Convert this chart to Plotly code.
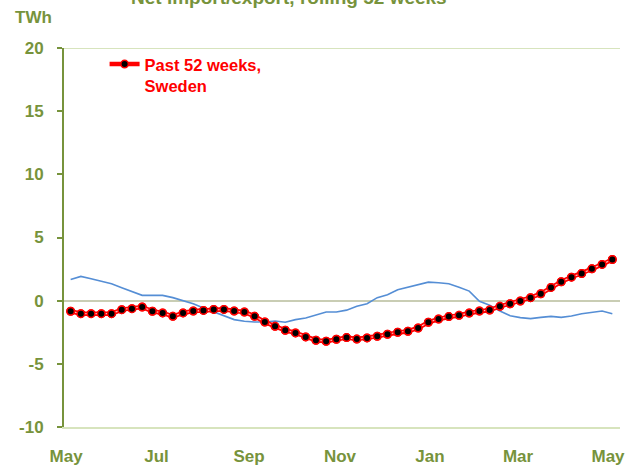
import plotly.graph_objects as go

# ---- data (TWh, rolling 52 weeks, weekly points May -> May) ----
weeks = list(range(54))
past_52_sweden = [-0.84, -1.03, -1.03, -1.03, -1.03, -0.71, -0.63, -0.50, -0.84, -0.97,
                  -1.24, -0.97, -0.82, -0.77, -0.69, -0.69, -0.82, -0.90, -1.24, -1.69,
                  -2.03, -2.34, -2.55, -2.87, -3.13, -3.21, -3.05, -2.92, -3.04, -2.95,
                  -2.82, -2.66, -2.50, -2.42, -2.16, -1.71, -1.45, -1.26, -1.16, -0.98,
                  -0.82, -0.74, -0.45, -0.24, -0.03, 0.24, 0.55, 1.05, 1.50, 1.86,
                  2.15, 2.52, 2.87, 3.26]
previous_year = [1.68, 1.92, 1.74, 1.55, 1.34, 1.03, 0.73, 0.42, 0.42, 0.42,
                 0.24, -0.03, -0.24, -0.58, -0.90, -1.21, -1.50, -1.63, -1.69, -1.69,
                 -1.61, -1.71, -1.50, -1.37, -1.16, -0.90, -0.90, -0.75, -0.45, -0.24,
                 0.24, 0.47, 0.87, 1.07, 1.26, 1.47, 1.42, 1.34, 1.07, 0.76,
                 -0.05, -0.37, -0.82, -1.19, -1.34, -1.42, -1.32, -1.24, -1.32, -1.21,
                 -1.03, -0.92, -0.82, -1.03]
month_labels = ["May", "Jul", "Sep", "Nov", "Jan", "Mar", "May"]
month_weeks = [-0.44, 8.40, 17.45, 26.35, 35.16, 43.77, 52.58]
y_ticks = [20, 15, 10, 5, 0, -5, -10]

OLIVE = "#77933C"
LIGHT = "#D7E4BD"
FONT = "Liberation Sans, Arial, sans-serif"

fig = go.Figure()
fig.add_trace(go.Scatter(x=weeks, y=previous_year, mode="lines",
                         line=dict(color="#558ED5", width=1.6), showlegend=False,
                         hoverinfo="skip"))
fig.add_trace(go.Scatter(x=weeks, y=past_52_sweden, mode="lines+markers",
                         name="Past 52 weeks,<br>Sweden",
                         line=dict(color="#FF0000", width=4.5),
                         marker=dict(color="#000000", size=7.5,
                                     line=dict(color="#FF0000", width=1.5))))
fig.add_trace(go.Scatter(x=weeks, y=past_52_sweden, mode="lines",
                         line=dict(color="#FFC0C0", width=1.2), showlegend=False,
                         hoverinfo="skip"))
fig.add_trace(go.Scatter(x=weeks, y=past_52_sweden, mode="markers",
                         marker=dict(color="#000000", size=7.5,
                                     line=dict(color="#FF0000", width=1.5)),
                         showlegend=False, hoverinfo="skip"))

# top gridline at 20
fig.add_shape(type="line", xref="paper", yref="y", x0=0, x1=1, y0=20, y1=20,
              line=dict(color=LIGHT, width=2), layer="below")

fig.update_layout(
    width=633, height=469,
    margin=dict(l=64, r=13, t=48, b=42, autoexpand=False),
    paper_bgcolor="white", plot_bgcolor="white",
    font=dict(family=FONT, color=OLIVE, size=17),
    showlegend=True,
    legend=dict(x=0.073, y=1.003, xanchor="left", yanchor="top",
                bgcolor="rgba(0,0,0,0)", valign="top",
                font=dict(family=FONT, size=16.5, color="#FF0000", weight="bold")),
    xaxis=dict(range=[-0.65, 53.75], tickmode="array", tickvals=month_weeks,
               ticktext=[f"<b>{m}</b>" for m in month_labels],
               showgrid=False, zeroline=False, showline=True, automargin=False,
               linecolor=LIGHT, linewidth=2, ticks="",
               ticklabelstandoff=13,
               tickfont=dict(family=FONT, size=17, color=OLIVE)),
    yaxis=dict(range=[-10, 20], tickmode="array", tickvals=y_ticks,
               ticktext=[f"<b>{v}</b>" for v in y_ticks],
               showgrid=False, zeroline=True, zerolinecolor="#C9CDB4",
               zerolinewidth=1.5, showline=True, linecolor=OLIVE, linewidth=2,
               automargin=False,
               ticks="outside", ticklen=5, tickcolor=OLIVE, tickwidth=1.5,
               ticklabelstandoff=10,
               tickfont=dict(family=FONT, size=17, color=OLIVE)),
    annotations=[
        dict(text="<b>Net import/export, rolling 52 weeks</b>", xref="paper", yref="paper",
             x=(289 - 64) / 556, y=(427 + 2) / 379, xanchor="center", yanchor="middle",
             showarrow=False, font=dict(family=FONT, size=19, color=OLIVE)),
        dict(text="<b>TWh</b>", xref="paper", yref="paper",
             x=(33 - 64) / 556, y=(427 - 18) / 379, xanchor="center", yanchor="middle",
             showarrow=False, font=dict(family=FONT, size=17, color=OLIVE)),
    ],
)

fig.write_html("out.html",
               config={"displayModeBar": False},
               post_script="document.body.style.margin='0px';"
                           "document.body.style.overflow='hidden';")
